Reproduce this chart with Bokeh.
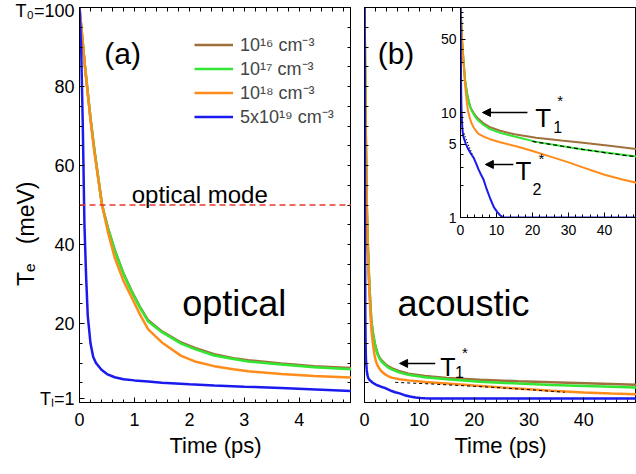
from bokeh.plotting import figure
from bokeh.models import (Range1d, FixedTicker, LinearAxis, Legend, LegendItem,
                          Arrow, NormalHead, Label, Span, PrintfTickFormatter)
from bokeh.layouts import row
from bokeh.embed import file_html
from bokeh.resources import INLINE

FONT = "Liberation Sans"
C16, C17, C18, C19 = "#a0703c", "#33e633", "#ff8c1a", "#1a1aee"
RED = "#e8392b"

# ---------------- data ----------------
# time (ps) and electron temperature Te (meV)
t_16 = [0, 0.1, 0.2, 0.27, 0.41, 0.52, 0.64, 0.8, 0.95, 1.1,
        1.25, 1.5, 1.85, 2.1, 2.45, 2.8, 3.07, 3.67, 4.27, 4.95,
        6.4, 8, 11, 15, 21, 28, 34, 42, 50]
Te_16 = [100, 85, 72, 64, 50, 44.1, 38.7, 32.7, 28.2, 24.2,
         20.8, 18.0, 15.2, 13.8, 12.2, 11.2, 10.7, 9.9, 9.2, 8.7,
         7.9, 7.3, 6.7, 6.2, 5.75, 5.4, 5.15, 4.8, 4.45]
t_17 = t_16
Te_17 = [100, 85, 72, 64, 50, 44, 38.5, 32.5, 28, 24,
         20.5, 17.8, 14.9, 13.5, 11.9, 11.0, 10.4, 9.6, 8.9, 8.4,
         7.6, 7.0, 6.4, 5.9, 5.25, 4.8, 4.45, 4.1, 3.75]
t_18 = [0, 0.1, 0.2, 0.27, 0.41, 0.52, 0.64, 0.8, 0.95, 1.1,
        1.25, 1.5, 1.85, 2.1, 2.45, 2.8, 3.07, 3.67, 4.27, 4.95,
        6.4, 8, 11, 15.7, 20, 25, 30, 34, 40, 45, 50]
Te_18 = [100, 85, 71.5, 63.5, 50, 43, 36.7, 30.8, 26.6, 22.3,
         18.5, 15.2, 11.8, 10.4, 9.2, 8.4, 7.9, 7.2, 6.7, 6.3,
         5.9, 5.6, 5.2, 4.75, 4.3, 3.8, 3.35, 3.0, 2.55, 2.3, 2.1]
t_19 = [0, 0.03, 0.06, 0.09, 0.12, 0.15, 0.2, 0.25, 0.3, 0.4,
        0.5, 0.64, 0.8, 1, 1.25, 1.5, 2, 2.45, 3, 3.67,
        4.3, 4.95, 5.6, 6.4, 7.3, 8.3, 9.3, 10.2, 11, 12,
        20, 30, 40, 50]
Te_19 = [100, 90, 70, 45, 32, 22, 15, 11.5, 10, 8.3,
         7.2, 6.4, 5.9, 5.6, 5.3, 5.0, 4.6, 4.3, 4.0, 3.7,
         3.3, 2.9, 2.6, 2.3, 1.85, 1.5, 1.25, 1.13, 1.05, 1.0,
         1.0, 1.0, 1.0, 1.0]

optical_mode_T = 50          # meV
# dashed fits
fit_b_t = [5.6, 12, 18, 24, 30, 36.5]
fit_b_T = [5.1, 4.7, 4.25, 3.8, 3.25, 2.6]
fit_i1_t = [20, 27, 34, 41, 48.9]
fit_i1_T = [5.3, 4.85, 4.45, 4.1, 3.78]
fit_i2_t = [1.0, 2.2, 3.4]
fit_i2_T = [6.3, 4.9, 3.9]

legend_labels = ["10\u00b9\u2076 cm\u207b\u00b3", "10\u00b9\u2077 cm\u207b\u00b3",
                 "10\u00b9\u2078 cm\u207b\u00b3", "5x10\u00b9\u2079 cm\u207b\u00b3"]

xa_major = [0, 1, 2, 3, 4]
xa_minor = [i * 0.2 for i in range(26)]
ya_major = [1, 20, 40, 60, 80, 100]
ya_minor = [5 * i for i in range(21)]
xb_major = [0, 10, 20, 30, 40]
xb_minor = [2 * i for i in range(26)]
yi_major = [1, 5, 10, 50]
yi_minor = [2, 3, 4, 6, 7, 8, 9, 20, 30, 40, 60, 70, 80, 90]

NB = "\u00a0"


def style_axis(ax, size):
    ax.axis_line_color = "black"
    ax.axis_line_width = 1
    ax.major_tick_in = 5
    ax.major_tick_out = 0
    ax.minor_tick_in = 3
    ax.minor_tick_out = 0
    ax.major_tick_line_color = "black"
    ax.minor_tick_line_color = "black"
    ax.major_label_text_font = FONT
    ax.major_label_text_color = "black"
    ax.major_label_text_font_size = f"{size}px"
    ax.axis_label_text_font = FONT
    ax.axis_label_text_font_style = "normal"
    ax.axis_label_text_color = "black"


def tick_only_axis(p, loc, positions, length=4):
    """An axis drawing only inward ticks (no labels at all)."""
    ax = LinearAxis(ticker=FixedTicker(ticks=[], minor_ticks=positions))
    ax.axis_line_color = "black"
    ax.major_tick_in = 0
    ax.major_tick_out = 0
    ax.minor_tick_in = length
    ax.minor_tick_out = 0
    ax.minor_tick_line_color = "black"
    ax.major_label_standoff = 0
    ax.axis_label_standoff = 0
    p.add_layout(ax, loc)


def label(p, x, y, text, size, baseline="alphabetic"):
    p.add_layout(Label(x=x, y=y, text=text, text_font=FONT, text_font_size=f"{size}px",
                       text_baseline=baseline, text_align="left", text_color="black"))


# ---------------- panel (a) ----------------
pa = figure(width=351, height=464, x_range=Range1d(0, 4.95), y_range=Range1d(0, 100),
            output_backend="svg", toolbar_location=None,
            min_border_left=79, min_border_right=0, min_border_top=7, min_border_bottom=62,
            x_axis_label="Time (ps)",
            y_axis_label="T\u2091" + NB * 3 + "(meV)" + NB * 9)
pa.xgrid.visible = False
pa.ygrid.visible = False
pa.outline_line_color = "black"
pa.outline_line_alpha = 1
pa.border_fill_color = "white"

xa = pa.xaxis[0]
style_axis(xa, 18)
xa.ticker = FixedTicker(ticks=xa_major, minor_ticks=xa_minor)
xa.major_label_standoff = 10
xa.axis_label_standoff = 4
xa.axis_label_text_font_size = "22px"
ya = pa.yaxis[0]
style_axis(ya, 18)
ya.ticker = FixedTicker(ticks=ya_major, minor_ticks=ya_minor)
ya.major_label_overrides = {100: "T\u2080=100", 1: "T\u2097=1"}
ya.axis_label_text_font_size = "23px"
ya.axis_label_standoff = -27
tick_only_axis(pa, "above", xa_minor)
tick_only_axis(pa, "right", ya_minor)

pa.add_layout(Span(location=optical_mode_T, dimension="width", line_color=RED,
                   line_dash="6 4", line_width=1.5))
ra16 = pa.line(t_16, Te_16, line_color=C16, line_width=2.5)
ra17 = pa.line(t_17, Te_17, line_color=C17, line_width=2.5)
ra18 = pa.line(t_18, Te_18, line_color=C18, line_width=2.5)
ra19 = pa.line(t_19, Te_19, line_color=C19, line_width=2.5)

leg = Legend(items=[LegendItem(label=lb, renderers=[r]) for lb, r in
                    zip(legend_labels, [ra16, ra17, ra18, ra19])],
             location=(115, 274), padding=0, margin=0, spacing=0,
             glyph_width=39, glyph_height=21, label_height=21, label_standoff=7,
             label_text_font=FONT, label_text_font_size="18px",
             border_line_alpha=0, background_fill_alpha=0)
pa.add_layout(leg)

label(pa, 0.45, 88.4, "(a)", 30, "middle")
label(pa, 0.95, 52.7, "optical mode", 24)
label(pa, 1.87, 25.1, "optical", 36)

# ---------------- panel (b) ----------------
pb = figure(width=285, height=464, x_range=Range1d(0, 49.6), y_range=Range1d(0, 100),
            output_backend="svg", toolbar_location=None,
            min_border_left=13, min_border_right=0, min_border_top=7, min_border_bottom=62,
            x_axis_label="Time (ps)", y_axis_location=None)
pb.xgrid.visible = False
pb.ygrid.visible = False
pb.outline_line_color = "black"
pb.outline_line_alpha = 1
pb.border_fill_color = "white"
xb = pb.xaxis[0]
style_axis(xb, 18)
xb.ticker = FixedTicker(ticks=xb_major, minor_ticks=xb_minor)
xb.major_label_standoff = 10
xb.axis_label_standoff = 4
xb.axis_label_text_font_size = "22px"
tick_only_axis(pb, "left", ya_minor)
tick_only_axis(pb, "above", xb_minor)

pb.line(t_16, Te_16, line_color=C16, line_width=2.5)
pb.line(t_17, Te_17, line_color=C17, line_width=2.5)
pb.line(t_18, Te_18, line_color=C18, line_width=2.5)
pb.line(t_19, Te_19, line_color=C19, line_width=2.5)
pb.line(fit_b_t, fit_b_T, line_color="black", line_dash="3 3", line_width=1)

pb.add_layout(Arrow(end=NormalHead(size=8, fill_color="black", line_color="black"),
                    x_start=12.9, y_start=9.9, x_end=6.4, y_end=9.9,
                    line_width=1.5, line_color="black"))
label(pb, 13.8, 9.1, "T", 25)
label(pb, 16.5, 7.6, "1", 16)
label(pb, 17.8, 14.9, "*", 15, "top")
label(pb, 2.4, 88.4, "(b)", 30, "middle")
label(pb, 6.0, 25.1, "acoustic", 36)

# ---------------- inset (log scale) ----------------
# (its top/bottom borders get aligned with the row's plots: 7 px / 62 px)
pi = figure(width=206, height=279, x_range=Range1d(0, 48.9), y_range=Range1d(1, 100),
            y_axis_type="log", output_backend="svg", toolbar_location=None,
            min_border_left=30, min_border_right=0, min_border_top=7, min_border_bottom=62)
pi.xgrid.visible = False
pi.ygrid.visible = False
pi.outline_line_color = "black"
pi.outline_line_alpha = 1
pi.background_fill_color = "white"
pi.border_fill_alpha = 0
xi = pi.xaxis[0]
style_axis(xi, 14)
xi.ticker = FixedTicker(ticks=xb_major, minor_ticks=xb_minor)
xi.major_label_standoff = 7
yi = pi.yaxis[0]
style_axis(yi, 14)
yi.ticker = FixedTicker(ticks=yi_major, minor_ticks=yi_minor)
yi.formatter = PrintfTickFormatter(format="%d")
yi.major_label_standoff = 4

pi.line(t_16, Te_16, line_color=C16, line_width=2)
pi.line(t_17, Te_17, line_color=C17, line_width=2)
pi.line(t_18, Te_18, line_color=C18, line_width=2)
pi.line(t_19, Te_19, line_color=C19, line_width=2)
pi.line(fit_i1_t, fit_i1_T, line_color="black", line_dash="4 3", line_width=1.2)
pi.line(fit_i2_t, fit_i2_T, line_color="black", line_dash="1 2", line_width=1.2)

pi.add_layout(Arrow(end=NormalHead(size=8, fill_color="black", line_color="black"),
                    x_start=18.6, y_start=10, x_end=6.1, y_end=10,
                    line_width=1.5, line_color="black"))
label(pi, 20.8, 8.9, "T", 26)
label(pi, 25.8, 7.2, "1", 16)
label(pi, 26.9, 15.8, "*", 15, "top")
pi.add_layout(Arrow(end=NormalHead(size=8, fill_color="black", line_color="black"),
                    x_start=14.7, y_start=3.2, x_end=6.9, y_end=3.2,
                    line_width=1.5, line_color="black"))
label(pi, 15.3, 2.8, "T", 26)
label(pi, 20.0, 1.85, "2", 16)
label(pi, 21.7, 4.4, "*", 15, "top")

pi.styles = {"position": "absolute", "left": "430px", "top": "0px", "z-index": "10",
             "width": "206px", "height": "279px"}

layout = row(pa, pb, pi)
layout.styles = {"position": "relative"}

open("out.html", "w").write(file_html(layout, INLINE))
